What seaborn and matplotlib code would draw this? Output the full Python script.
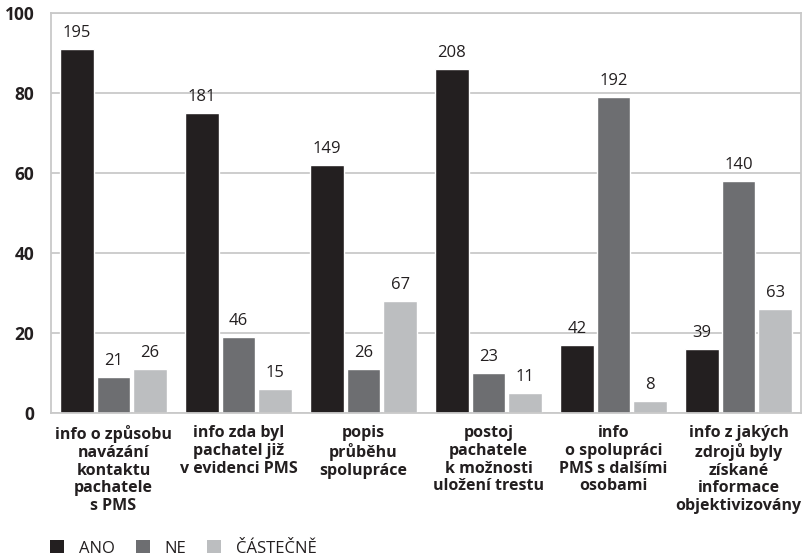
import matplotlib
matplotlib.use("Agg")
import matplotlib.pyplot as plt
import seaborn as sns
import pandas as pd
from matplotlib.patches import Patch

# Categories (multi-line labels as printed under each group)
categories = [
    "info o způsobu\nnavázání\nkontaktu\npachatele\ns PMS",
    "info zda byl\npachatel již\nv evidenci PMS",
    "popis\nprůběhu\nspolupráce",
    "postoj\npachatele\nk možnosti\nuložení trestu",
    "info\no spolupráci\nPMS s dalšími\nosobami",
    "info z jakých\nzdrojů byly\nzískané\ninformace\nobjektivizovány",
]
answers = ["ANO", "NE", "ČÁSTEČNĚ"]

# Share of respondents in percent (bar heights)
pct_ano = [91, 75, 62, 86, 17, 16]
pct_ne = [9, 19, 11, 10, 79, 58]
pct_cast = [11, 6, 28, 5, 3, 26]

# Absolute counts (printed above bars)
cnt_ano = [195, 181, 149, 208, 42, 39]
cnt_ne = [21, 46, 26, 23, 192, 140]
cnt_cast = [26, 15, 67, 11, 8, 63]

colors = ["#231f20", "#6d6e71", "#bcbec0"]
grid_color = "#c9c9c9"

rows = []
for ans, pcts, cnts in zip(answers, [pct_ano, pct_ne, pct_cast], [cnt_ano, cnt_ne, cnt_cast]):
    for cat, p, c in zip(categories, pcts, cnts):
        rows.append({"kategorie": cat, "odpověď": ans, "procento": p, "počet": c})
df = pd.DataFrame(rows)

sns.set_theme(style="white")
plt.rcParams["font.family"] = ["Open Sans", "DejaVu Sans"]

fig = plt.figure(figsize=(8.06, 5.56), dpi=100)
ax = fig.add_axes([0.0633, 0.2572, 0.9305, 0.7194])

sns.barplot(
    data=df, x="kategorie", y="procento", hue="odpověď",
    order=categories, hue_order=answers, palette=colors,
    width=0.88, gap=0.075, saturation=1, errorbar=None, ax=ax, legend=False,
)

for cont, cnts in zip(ax.containers, [cnt_ano, cnt_ne, cnt_cast]):
    ax.bar_label(cont, labels=[str(v) for v in cnts], padding=6,
                 fontsize=12, color="#231f20")

ax.set_ylim(0, 100)
ax.set_xlim(-0.5, len(categories) - 0.5)
ax.set_yticks([0, 20, 40, 60, 80, 100])
ax.set_yticklabels(["0", "20", "40", "60", "80", "100"],
                   fontsize=12.5, fontweight="bold", color="#231f20")
ax.tick_params(axis="y", length=0, pad=12)
ax.yaxis.grid(True, color=grid_color, linewidth=1.3)
ax.set_axisbelow(True)

ax.set_xticks(range(len(categories)))
ax.set_xticklabels(categories, fontsize=11.5, fontweight="bold",
                   color="#231f20", linespacing=1.13, va="top")
ax.tick_params(axis="x", which="major", length=0, pad=9)
ax.set_xticks([i + 0.5 for i in range(len(categories) - 1)], minor=True)
ax.tick_params(axis="x", which="minor", direction="in", length=6,
               width=1.3, color=grid_color)

ax.set_xlabel("")
ax.set_ylabel("")
for side in ["left", "right", "top", "bottom"]:
    ax.spines[side].set_visible(True)
    ax.spines[side].set_color(grid_color)
    ax.spines[side].set_linewidth(1.3)

handles = [Patch(facecolor=c, edgecolor="none") for c in colors]
fig.legend(handles, answers, loc="lower left", bbox_to_anchor=(0.043, -0.028),
           ncol=3, frameon=False, fontsize=12, handlelength=0.85,
           handleheight=0.85, handletextpad=0.9, columnspacing=1.25,
           labelcolor="#231f20")

fig.savefig("out.png", dpi=100, facecolor="white")
